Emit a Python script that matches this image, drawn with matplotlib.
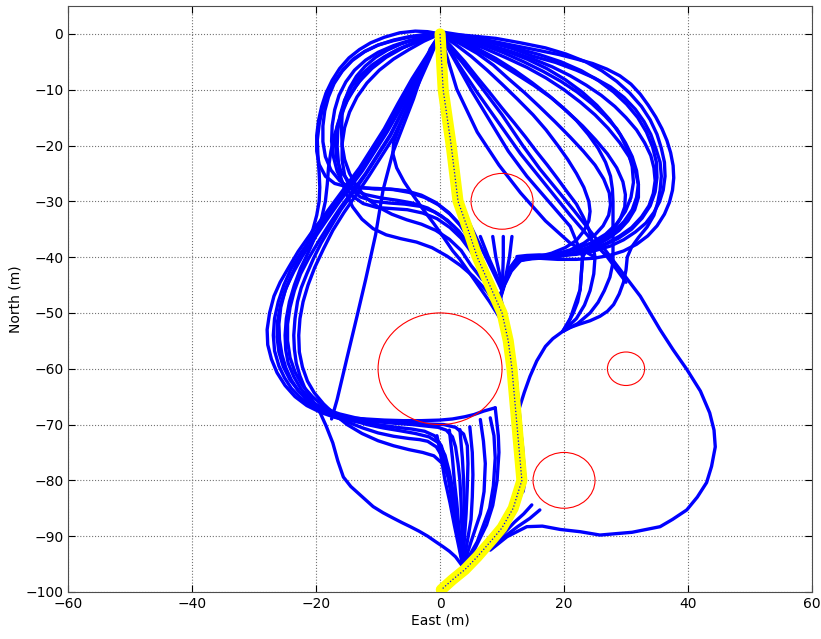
import numpy as np
import matplotlib
matplotlib.use('Agg')
import matplotlib.pyplot as plt
from matplotlib.patches import Circle

# obstacles (centre, radius) in metres
obs_x = [10, 0, 30, 20]
obs_y = [-30, -60, -60, -80]
obs_r = [5, 10, 3, 5]

# chosen path (yellow)
path_x = [0, 0.5, 1.8, 2.9, 4.5, 6, 8, 10, 11, 11.6, 12, 12.4, 12.8, 13.2, 11.8, 10, 8.5, 6, 4, 2, 0.2]
path_y = [0, -10, -20, -30, -35, -40, -45, -50, -55, -60, -65, -70, -75, -80, -85, -88.5, -90.5, -93.7, -96, -97.8, -99.6]

# upper-left loops : origin -> left arc -> back right to the fan near (8,-42)
ul_loops = [
    [(0,0),(-2,0.4),(-4,0.5),(-6.5,0.2),(-9,-0.6),(-11.2,-1.6),(-13,-2.8),(-14.7,-4.3),(-16.2,-6.2),(-17.4,-8.3),(-18.4,-10.6),(-19.1,-13),(-19.6,-15.5),(-19.9,-18.2),(-19.9,-21),(-19.5,-23.4),(-18.5,-25.5),(-17,-26.8),(-15,-27.4),(-12.5,-27.6),(-10,-27.7),(-7.5,-27.9),(-5,-28.4),(-2.5,-29.3),(-0.3,-30.6),(1.6,-32.3),(3.3,-34.3),(4.8,-36.6),(6,-39),(7,-41.5),(8.5,-45),(10,-49)],
    [(0,0),(-2.5,-0.1),(-5,-0.5),(-7.5,-1.1),(-10,-2),(-12.2,-3.2),(-14.2,-4.8),(-15.8,-6.7),(-17.1,-8.9),(-18,-11.3),(-18.6,-13.8),(-18.9,-16.5),(-18.9,-19.3),(-18.5,-22),(-17.6,-24.4),(-16.2,-26.3),(-14.3,-27.8),(-12,-28.8),(-9.5,-29.4),(-7,-29.8),(-4.5,-30.3),(-2,-31.2),(0.2,-32.6),(2.2,-34.5),(4,-36.8),(5.4,-39),(6.6,-41.5),(8.2,-45),(10,-49)],
    [(0,0),(-2.5,-0.5),(-5,-1.2),(-7.5,-2.1),(-10,-3.3),(-12,-4.7),(-13.8,-6.5),(-15.2,-8.6),(-16.3,-11),(-17,-13.6),(-17.4,-16.4),(-17.5,-19.2),(-17.2,-22),(-16.6,-24.6),(-15.6,-27),(-14.2,-29),(-12.4,-30.4),(-10.2,-31.1),(-7.8,-31.3),(-5.3,-31.5),(-2.8,-32.1),(-0.5,-33.1),(1.6,-34.7),(3.4,-36.6),(5,-39),(6.3,-41.2),(7.7,-43.6),(9,-46)],
    [(0,0),(-2.3,-0.8),(-4.5,-1.8),(-6.8,-2.8),(-9,-4.1),(-11,-5.6),(-12.8,-7.4),(-14.3,-9.5),(-15.4,-11.9),(-16.1,-14.5),(-16.5,-17.3),(-16.6,-20.2),(-16.4,-23),(-16,-25.8),(-15.2,-28.5),(-14.1,-31),(-12.6,-33.2),(-10.8,-34.9),(-8.7,-36),(-6.3,-36.7),(-3.8,-37.3),(-1.3,-38.3),(1.1,-39.8),(3.3,-41.5),(5.3,-43.4),(7.5,-46),(9.5,-49)],
    [(0,0),(-3,-1),(-6,-2.5),(-8.7,-4.2),(-11,-6.2),(-13,-8.5),(-14.6,-11),(-15.8,-13.7),(-16.6,-16.5),(-16.9,-19.4),(-16.7,-22.2),(-16,-24.6),(-14.7,-26.5),(-12.8,-27.5),(-10.5,-27.8),(-8,-27.8),(-5.5,-28.1),(-3,-28.9),(-0.7,-30.2),(1.4,-32),(3.2,-34.2),(4.7,-36.7),(6,-39.3),(7.2,-42)],
    [(0,0),(-2.6,-1.3),(-5,-2.8),(-7.5,-4.5),(-9.8,-6.5),(-11.8,-8.8),(-13.4,-11.3),(-14.6,-14),(-15.4,-16.8),(-15.8,-19.7),(-15.8,-22.6),(-15.4,-25.3),(-14.5,-27.6),(-12.9,-29.2),(-10.7,-30),(-8.2,-30.3),(-5.7,-30.5),(-3.2,-30.9),(-0.9,-31.9),(1.2,-33.4),(3,-35.3),(4.6,-37.6),(6,-40),(7.3,-42.5)],
    [(0,0),(-2,-0.4),(-4,-1),(-6.3,-1.8),(-8.5,-2.9),(-10.4,-4.2),(-12.1,-5.8),(-13.5,-7.6),(-14.6,-9.7),(-15.4,-12),(-15.8,-14.5),(-15.9,-17.2),(-15.8,-19.9),(-15.4,-22.5),(-14.6,-25),(-13.4,-27.4),(-11.9,-29.4),(-10,-31),(-7.8,-32.3),(-5.4,-33.3),(-3,-34.1),(-0.7,-35.2),(1.5,-36.8),(3.4,-38.8),(5,-41.5),(6.8,-44)],
]

# diagonal band down-left and the lower-left loops
ll_loops = [
    [(0,0),(-2.2,-4),(-4.5,-8),(-6.8,-12.5),(-9,-17),(-11,-20.5),(-13,-24),(-15,-27),(-17,-30),(-19,-33),(-21,-36),(-22.9,-39),(-24.5,-42),(-25.8,-44.5),(-26.8,-47),(-27.5,-50),(-27.9,-53),(-27.8,-55.7),(-27.2,-58.3),(-26.3,-60.7),(-25,-63),(-23.4,-65),(-21.5,-66.6),(-19.3,-67.8),(-17,-68.7),(-14.5,-69.3),(-12,-69.7),(-9.5,-70.1),(-7,-70.5),(-4.6,-70.8),(-2.5,-71.2),(-0.9,-72),(0.2,-73.8),(0.9,-76.5),(1.5,-79.5),(2.1,-83),(2.6,-87),(3.1,-91),(3.7,-95.5)],
    [(0,0),(-2,-4.2),(-4,-8.5),(-6.2,-13),(-8.5,-17.5),(-10.5,-21),(-12.5,-24.5),(-14.5,-27.5),(-16.5,-30.5),(-18.5,-33.7),(-20.5,-37),(-22.2,-39.8),(-23.6,-42.6),(-24.8,-45.4),(-25.7,-48.4),(-26.2,-51.4),(-26.3,-54.3),(-26,-57),(-25.3,-59.6),(-24.2,-62),(-22.7,-64.1),(-20.8,-65.9),(-18.6,-67.2),(-16.2,-68.1),(-13.6,-68.8),(-11,-69.3),(-8,-69.6),(-5,-69.8),(-2,-69.9),(0.6,-70),(2.5,-70.5),(3.8,-71.7),(4.4,-73.8),(4.5,-77),(4.4,-81),(4.2,-86),(3.9,-91),(3.7,-95.5)],
    [(0,0),(-1.8,-4.2),(-3.6,-8.5),(-5.8,-13.2),(-8,-18),(-10,-21.5),(-12,-25),(-14,-28),(-16,-31),(-17.8,-34),(-19.5,-37),(-21.1,-40),(-22.5,-43),(-23.5,-46),(-24.2,-49),(-24.6,-52),(-24.6,-55),(-24.2,-58),(-23.4,-60.6),(-22.2,-63),(-20.6,-65),(-18.7,-66.8),(-16.5,-68.2),(-14.2,-69.2),(-11.8,-70),(-9.2,-70.6),(-6.5,-71.1),(-4,-71.6),(-1.8,-72.2),(-0.2,-73.3),(0.8,-75.5),(1.5,-78.5),(2.1,-82),(2.6,-86),(3.1,-90.5),(3.7,-95.5)],
    [(0,0),(-1.7,-4.5),(-3.5,-9),(-5.5,-13.8),(-7.5,-18.5),(-9.5,-22),(-11.5,-25.5),(-13.5,-28.8),(-15.5,-32),(-17.3,-35.2),(-18.8,-38.5),(-20.2,-41.8),(-21.3,-45),(-22.1,-48),(-22.6,-51),(-22.8,-54),(-22.7,-57),(-22.2,-59.7),(-21.4,-62.2),(-20.3,-64.3),(-18.8,-66.3),(-17,-68.2),(-15,-70),(-12.6,-71.6),(-10,-72.9),(-7.5,-73.8),(-5,-74.5),(-2.8,-75),(-1,-75.6),(0.4,-77),(1.4,-79.5),(2.1,-83),(2.7,-87.5),(3.2,-91.5),(3.7,-95.5)],
    [(0,0),(-2.1,-4.1),(-4.2,-8.2),(-6.5,-12.7),(-8.7,-17.2),(-10.7,-20.7),(-12.7,-24.2),(-14.7,-27.2),(-16.7,-30.2),(-18.7,-33.3),(-20.7,-36.5),(-22.5,-39.3),(-24,-42),(-25.2,-45),(-26.1,-48),(-26.7,-51),(-26.9,-54),(-26.7,-56.8),(-26,-59.5),(-25.1,-61.6),(-24,-63.5),(-22.6,-65.1),(-21,-66.5),(-19.1,-67.5),(-17,-68.3),(-14.5,-68.8),(-12,-69),(-9,-69.2),(-6,-69.3),(-3,-69.3),(0,-69.2),(2,-69),(4,-68.6),(5.5,-68.2),(7,-67.6),(8.9,-67)],
    [(0,0),(-1.9,-4.4),(-3.8,-8.8),(-5.9,-13.5),(-8,-18.2),(-10,-21.7),(-12,-25.2),(-14,-28.4),(-16,-31.5),(-17.6,-34.5),(-19.2,-37.5),(-20.4,-40.2),(-21.5,-43),(-22.4,-45.5),(-23,-48),(-23.4,-51),(-23.6,-54),(-23.5,-56.5),(-23.2,-59),(-22.6,-61.3),(-21.8,-63.5),(-20.7,-65.5),(-19.5,-67.5),(-18.4,-70.2),(-17.3,-73.3),(-16.5,-76.5),(-15.6,-79.4),(-14.4,-81.1),(-13,-82.5),(-11.9,-83.6),(-10.8,-84.7),(-9.2,-85.8),(-7.5,-86.8),(-6.1,-87.6),(-4.8,-88.3),(-3.4,-89.1),(-2,-90),(-0.7,-91),(0.5,-91.9),(1.5,-92.7),(2.5,-93.7),(3.7,-95.5)],
    [(0,0),(-2.5,-0.2),(-5,-0.6),(-7.5,-1.2),(-10,-2),(-12.1,-3.1),(-14,-4.5),(-15.6,-6.3),(-17,-8.5),(-18.1,-10.9),(-19,-13.5),(-19.5,-16.2),(-19.8,-19),(-19.7,-22),(-19.5,-25),(-19.4,-27.5),(-19.5,-30),(-19.9,-32.5),(-20.5,-35),(-21.5,-37.7),(-22.8,-40.5),(-24,-43.3),(-25,-46),(-25.7,-49),(-26,-52),(-25.9,-54.8),(-25.5,-57.5),(-24.9,-59.8),(-24,-62),(-22.9,-63.9),(-21.5,-65.5),(-19.9,-66.9),(-18,-68),(-15.6,-68.7),(-13,-69.2),(-10,-69.5),(-7,-69.8),(-4.5,-70),(-2,-70.3),(-0.3,-70.5),(1,-71),(2,-72.2),(2.5,-74),(2.9,-77),(3.2,-80),(3.4,-84),(3.5,-88),(3.6,-92),(3.7,-95.5)],
    [(0,0),(-2,-0.6),(-4,-1.5),(-6,-2.4),(-8,-3.5),(-10.1,-5.1),(-12,-7),(-13.6,-9.4),(-15,-12),(-16.1,-15),(-17,-18),(-17.6,-21),(-18,-24),(-18.2,-27),(-18.5,-30),(-19.1,-33),(-20,-36),(-21.2,-39),(-22.5,-42),(-23.5,-45),(-24.3,-48),(-24.8,-51),(-25,-54),(-24.9,-56.6),(-24.5,-59),(-23.6,-61.4),(-22.5,-63.5),(-21.1,-65.4),(-19.5,-67),(-17.4,-68.4),(-15,-69.5),(-12.5,-70.6),(-10,-71.5),(-7.5,-72.1),(-5,-72.5),(-3.3,-72.7),(-2,-73),(-0.6,-74),(0.5,-76),(1.3,-79.5),(2,-84),(2.9,-90),(3.7,-95.5)],
]

# single thin tracks crossing the middle left
thin_tracks = [
    [(0,0),(-1.6,-2.7),(-4.3,-11.7),(-7.6,-21.2),(-9.2,-28),(-10.4,-36),(-12,-44),(-13.4,-50.6),(-15,-58),(-16.6,-65.5),(-17.5,-69)],
    [(-5,-12.5),(-6.5,-16.5),(-7.5,-19.5),(-7.6,-21.5),(-7,-24),(-5.8,-26.5),(-4.3,-29),(-2.7,-31.5),(-1,-34),(0.6,-36.5),(2,-38.8),(3.2,-40.4),(5.5,-44),(8,-48),(9.7,-51)],
]

# upper-right loops returning to the fan near (12,-40)
ur_loops = [
    [(0,0.4),(4,-0.3),(8,-1.2),(12,-2.1),(16.1,-3),(19.2,-3.7),(22,-4.5),(24.6,-5.3),(26.9,-6.3),(29,-7.5),(30.8,-9),(32.3,-10.8),(33.6,-12.8),(34.8,-14.9),(35.8,-17),(36.6,-19.1),(37.2,-21.3),(37.6,-23.6),(37.7,-25.8),(37.5,-28),(37,-30.2),(36.2,-32.3),(35,-34.4),(33.5,-36.2),(31.7,-37.7),(29.6,-38.9),(27.3,-39.7),(24.8,-40.2),(22,-40.4),(19,-40.4),(16,-40.2),(13.6,-40),(12.4,-40.2),(11.2,-42),(10.4,-44.5),(9.7,-47)],
    [(0,0),(4,-0.9),(8,-2),(11.6,-3.2),(15,-4.5),(18.1,-5.9),(21,-7.5),(23.6,-9.2),(26,-11),(28.2,-13),(30,-15),(31.7,-17.2),(33,-19.5),(34,-21.8),(34.5,-24),(34.7,-26.3),(34.4,-28.6),(33.7,-30.8),(32.5,-32.8),(30.9,-34.7),(29,-36.2),(26.9,-37.5),(24.5,-38.6),(21.8,-39.4),(19,-39.9),(16.4,-40.1),(14,-40.2),(12.4,-40.6),(11.2,-42.5),(10.3,-45),(9.7,-47)],
    [(0,0),(3.5,-1.2),(7,-2.5),(10.5,-4.2),(14,-6),(17.1,-7.9),(20,-10),(22.6,-12.2),(25,-14.5),(27.1,-16.9),(29,-19.5),(30.5,-22),(31.5,-24.5),(32,-27),(32,-29.3),(31.4,-31.5),(30.3,-33.5),(28.9,-35.2),(27.1,-36.7),(25,-38),(22.6,-39),(20,-39.7),(17.3,-40.1),(14.8,-40.3),(13,-40.6),(11.5,-42.5),(10.4,-45),(9.7,-47.5)],
    [(0,0),(3,-1.4),(6,-3),(9,-4.9),(12,-7),(15.1,-9.2),(18,-11.5),(20.6,-14),(23,-16.5),(25.1,-19),(27,-21.5),(28.5,-24),(29.5,-26.5),(29.9,-28.8),(29.8,-31),(29.1,-33.1),(28,-35),(26.2,-36.8),(24,-38.2),(21.5,-39.2),(19,-39.8),(16,-40.1),(13,-40.4),(11.4,-42.3),(10.3,-45),(9.7,-47.5)],
    [(0,0),(3,-1.6),(6,-3.5),(8.6,-5.6),(11,-8),(13.6,-10.5),(16,-13),(18.6,-15.8),(21,-18.5),(23.1,-21),(25,-23.5),(26.4,-26),(27.3,-28.5),(27.5,-30.6),(27.2,-32.5),(26.3,-34.4),(25,-36),(23.2,-37.5),(21,-38.7),(18.5,-39.5),(16,-40),(14,-40.3),(12.5,-40.8),(11.3,-42.5),(10.4,-44.8),(9.7,-47)],
    [(0,0),(2.5,-1.9),(5,-4),(7.6,-6.5),(10,-9),(12.5,-11.7),(15,-14.5),(17.1,-17.2),(19,-20),(20.6,-22.5),(22,-25),(23.2,-27.5),(24,-30),(24.2,-31.8),(24,-33.5),(23.2,-35.3),(22,-37),(20.2,-38.3),(18,-39.3),(15.5,-40),(13,-40.4),(11.5,-42.2),(10.4,-44.8),(9.7,-47)],
    [(0,0),(4.5,-0.3),(9,-0.8),(13,-1.6),(17,-2.5),(20.3,-3.6),(23.5,-5),(26.1,-6.6),(28.5,-8.5),(30.6,-10.6),(32.5,-13),(33.9,-15.4),(35,-18),(35.7,-20.5),(36.2,-23),(36.3,-25.5),(36,-28),(35.4,-30.1),(34.5,-32),(33.2,-33.9),(31.5,-35.5),(29.6,-36.9),(27.5,-38),(24.8,-38.9),(22,-39.5),(19,-39.7),(16,-39.6),(14,-39.7),(12.4,-39.9)],
    [(0,0),(4,-0.6),(8,-1.5),(12,-2.5),(16,-3.7),(19.5,-5),(22.8,-6.6),(25.6,-8.4),(28,-10.4),(30.1,-12.6),(31.9,-15),(33.3,-17.6),(34.3,-20.3),(34.9,-23),(35,-25.7),(34.7,-28.3),(33.9,-30.8),(32.6,-33),(30.9,-35),(28.8,-36.6),(26.4,-37.9),(23.7,-38.8),(20.8,-39.4),(17.8,-39.7),(15,-39.8),(12.6,-40),(11.2,-42.2),(10.3,-44.8),(9.7,-47)],
    [(0,0),(3.5,-0.8),(7,-1.8),(10.5,-3),(14,-4.5),(17.2,-6.2),(20.2,-8.2),(22.9,-10.4),(25.3,-12.8),(27.4,-15.4),(29.1,-18.1),(30.3,-20.9),(31,-23.8),(31.2,-26.6),(30.8,-29.3),(29.9,-31.8),(28.5,-34),(26.7,-35.9),(24.5,-37.4),(22,-38.5),(19.4,-39.3),(16.7,-39.8),(14.2,-40.1),(12.5,-40.5)],
]

# right loops that carry on down to the junction near (20,-53)
ur_deep = [
    [(0,0),(4,-0.6),(8,-1.5),(11.6,-2.6),(15,-4),(18.6,-5.1),(22,-6.5),(24.9,-7.9),(27.5,-9.5),(29.7,-11.4),(31.5,-13.5),(32.9,-15.7),(34,-18),(34.8,-20.5),(35.5,-23),(35.7,-25.5),(35.5,-28),(35.1,-30.3),(34.5,-32.5),(33.4,-34.6),(32,-36.5),(30.9,-38.2),(30.2,-40),(30,-42.3),(29.6,-44.5),(28.9,-46.6),(28,-48.5),(27,-49.7),(25.8,-50.6),(24.2,-51.4),(22.5,-52),(21,-52.6),(19.8,-53.3),(18.2,-54.6),(17,-56),(15.6,-58.6),(14.5,-61.4),(13.6,-64.2),(12.8,-67)],
    [(0,0),(3.5,-0.9),(7,-2),(10.3,-3.4),(13.5,-5),(16.6,-6.7),(19.5,-8.5),(22.1,-10.4),(24.5,-12.5),(26.6,-14.7),(28.5,-17),(29.9,-19.5),(31,-22),(31.7,-24.5),(32,-27),(31.7,-29.3),(31,-31.5),(29.7,-33.6),(28,-35.5),(26.2,-36.8),(24.5,-38),(23.5,-39),(23,-40),(22.8,-42.9),(22.6,-45.8),(22.2,-48),(21.5,-50),(20.7,-51.7),(19.8,-53.3)],
    [(0,0),(3,-1.2),(6,-2.6),(9,-4.4),(12,-6.5),(14.8,-8.7),(17.5,-11),(19.8,-13.2),(22,-15.5),(23.9,-18),(25.5,-20.5),(26.7,-23),(27.5,-25.5),(27.8,-27.8),(27.9,-30),(27.9,-32.5),(27.9,-35),(27.9,-38),(27.9,-41),(27.4,-43.6),(26.5,-46),(25.5,-48.1),(24.2,-50),(22.2,-51.9),(19.8,-53.3)],
    [(0,0),(2,-2.5),(4,-5),(6,-7.8),(8,-10.5),(10,-13.3),(12,-16),(13.8,-18.5),(15.5,-21),(17.3,-23.5),(19,-26),(20.5,-28.3),(22,-30.5),(23.1,-32.8),(24,-35),(24.6,-37.5),(25,-40),(24.8,-43),(24.2,-46),(23.3,-48.6),(22,-51),(19.8,-53.3)],
]

# straight-ish tracks running down-right from the start
rd_tracks = [
    [(0,-0.4),(3.5,-5),(6.5,-9.3),(10,-14.5),(13.4,-20.1),(16.1,-24.2),(21.5,-31.5),(26.9,-39.1),(32.3,-47),(35.5,-53),(37.6,-56.6),(39.8,-60.1),(42,-64),(43.5,-67.9),(44.2,-71),(44.4,-74),(43.8,-77.5),(43,-80.4),(41.5,-83),(39.8,-85.3),(37.5,-87),(35.5,-88.3),(31,-89.3),(25.8,-89.8),(22.6,-89.2),(19.4,-88.8),(16.5,-88.2),(14,-88.3),(10.8,-90.1),(8.1,-92.5)],
    [(0,0),(3,-5.5),(6,-10.5),(9.5,-16),(13,-21.5),(17,-27),(21,-32.5),(24.5,-37),(27,-40),(30,-44.5)],
    [(0,0),(2.5,-5),(5,-10),(8,-15.5),(11,-21),(14,-25.5),(17.5,-30),(21,-34.5),(23,-39.9),(22.6,-45.8),(21,-51),(19.8,-53.3)],
    [(0,0),(2.7,-9.9),(6,-17.6),(9.5,-23.5),(13,-28.5),(17,-33.5),(21,-37.5),(25,-40)],
]

# short fans where the tracks merge
fan_mid = [
    [(4.4,-33.2),(6.5,-38),(8.5,-42.5),(10,-46)],
    [(6.5,-36.3),(7.8,-40),(9.2,-43.5),(10,-46)],
    [(8.5,-36.3),(9,-40),(9.7,-43.5),(10,-46)],
    [(10.2,-36.3),(10.2,-40),(10.1,-43.5),(10,-46)],
    [(11.6,-36.3),(11.2,-40),(10.6,-43.5),(10,-46)],
]
fan_low = [
    [(-0.5,-72),(0.2,-76),(0.8,-80),(1.6,-84),(2.3,-88),(3.7,-95.5)],
    [(1.5,-71),(2,-76),(2.3,-80),(2.7,-84),(3,-88),(3.7,-95.5)],
    [(3.2,-70.9),(3.6,-76),(3.8,-80),(3.9,-84),(3.9,-88),(3.7,-95.5)],
    [(4.8,-70.4),(5.2,-75),(5.3,-79),(5.2,-83),(5,-87),(3.7,-95.5)],
    [(6.5,-69.1),(7,-73),(7.3,-77),(7.1,-82),(6.5,-86),(5,-91),(3.7,-95.5)],
    [(8.1,-68.8),(8.7,-72),(8.9,-76),(8.6,-81),(8,-85),(6,-91),(3.7,-95.5)],
    [(8.9,-67),(9.4,-72),(9.5,-75),(9.2,-80),(8.5,-84.5),(7.5,-88),(5.5,-92.5),(3.7,-95.5)],
]
fan_right = [
    [(13.4,-81.7),(12.5,-84),(11.5,-86),(10,-89),(8.5,-91.9)],
    [(14.8,-84.4),(13.5,-86),(12,-87.5),(10,-89.8),(8.5,-91.9)],
    [(16.1,-85.3),(14.5,-86.8),(12.5,-88.3),(10.5,-90),(8.5,-91.9)],
]
# blue tracks hugging the chosen path
hug_tracks = [
    [(9.7,-47),(11,-53),(12,-60),(12.6,-67),(13.3,-74),(13.7,-80),(13.4,-82)],
    [(10,-49),(11.3,-55),(12.3,-62),(12.8,-68),(13.3,-75),(13.5,-80),(12.5,-84.5)],
]

fig = plt.figure(figsize=(8.21, 6.39), dpi=100)
ax = fig.add_axes([0.083, 0.0736, 0.906, 0.917])

def draw(track, **kw):
    xy = np.array(track)
    ax.plot(xy[:, 0], xy[:, 1], **kw)

blue = dict(color='#0000ff', lw=2.4, solid_joinstyle='round', solid_capstyle='round', zorder=2)
for group in [ul_loops, ll_loops, thin_tracks, ur_loops, ur_deep, rd_tracks,
              fan_mid, fan_low, fan_right, hug_tracks]:
    for t in group:
        draw(t, **blue)

for cx, cy, r in zip(obs_x, obs_y, obs_r):
    ax.add_patch(Circle((cx, cy), r, fill=False, ec='red', lw=0.8, zorder=3))

ax.plot(path_x, path_y, color='yellow', lw=8, solid_capstyle='round', zorder=4)
ax.plot(path_x, path_y, color='#0000ff', lw=0.9, ls=':', zorder=5)

ax.set_xlim(-60, 60)
ax.set_ylim(-100, 5)
ax.set_xticks(range(-60, 61, 20))
ax.set_yticks(range(-100, 1, 10))
ax.grid(True, ls=':', color='0.45', lw=0.8)
ax.tick_params(direction='in', top=True, right=True, length=5, labelsize=10)
for s in ax.spines.values():
    s.set_color('0.3')
ax.set_xlabel('East (m)', fontsize=10, labelpad=2)
ax.set_ylabel('North (m)', fontsize=10, labelpad=2)

fig.savefig('out.png', dpi=100)
